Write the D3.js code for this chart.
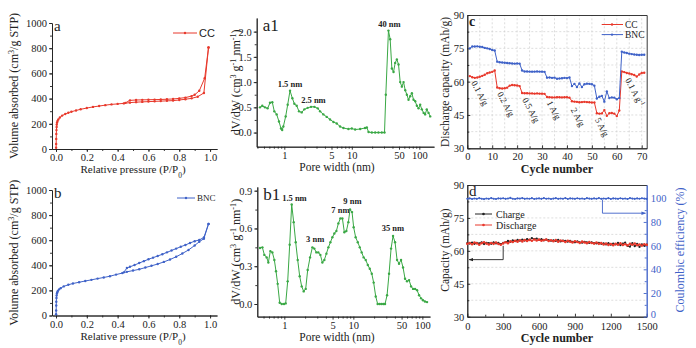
<!DOCTYPE html>
<html><head><meta charset="utf-8">
<script src="https://cdn.jsdelivr.net/npm/d3@7"></script>
<style>
body{margin:0;background:#fff}
svg{display:block}
text{font-family:"Liberation Serif","Times New Roman",serif;fill:#222}
</style>
</head><body>
<svg id="c" width="696" height="348"></svg>
<script>
// ---------------- DATA ----------------
// Panel a: CC N2 isotherm [P/P0, V]
const ccAds = [[0.0005,10],[0.001,40],[0.0015,80],[0.002,120],[0.003,150],[0.004,175],[0.005,195],[0.007,210],[0.01,222],[0.015,235],[0.025,250],[0.04,265],[0.06,278],[0.08,288],[0.1,296],[0.13,306],[0.16,315],[0.2,325],[0.24,334],[0.28,341],[0.32,348],[0.36,354],[0.4,358],[0.44,362],[0.48,368],[0.52,372],[0.56,374],[0.6,376],[0.64,378],[0.68,380],[0.72,382],[0.76,384],[0.8,389],[0.84,395],[0.88,402],[0.92,415],[0.96,445],[0.99,805]];
const ccDes = [[0.99,805],[0.965,562],[0.93,462],[0.9,430],[0.88,420],[0.84,408],[0.8,402],[0.76,397],[0.72,395],[0.68,393],[0.64,392],[0.6,391],[0.56,390],[0.52,389],[0.48,386],[0.45,366]];
// Panel b: BNC N2 isotherm
const bncAds = [[0.0005,10],[0.001,40],[0.0015,80],[0.002,110],[0.003,140],[0.004,160],[0.006,175],[0.008,185],[0.012,195],[0.02,208],[0.03,218],[0.05,232],[0.08,245],[0.11,255],[0.15,265],[0.19,275],[0.23,284],[0.27,294],[0.31,303],[0.35,313],[0.39,326],[0.43,338],[0.46,348],[0.5,358],[0.54,368],[0.58,382],[0.62,396],[0.66,410],[0.7,427],[0.74,446],[0.78,468],[0.82,494],[0.86,522],[0.9,558],[0.93,588],[0.96,612],[0.99,730]];
const bncDes = [[0.99,730],[0.96,622],[0.93,602],[0.9,592],[0.87,578],[0.84,562],[0.81,548],[0.78,533],[0.75,518],[0.72,503],[0.69,488],[0.66,474],[0.63,461],[0.6,448],[0.57,433],[0.54,418],[0.51,402],[0.48,388],[0.46,378],[0.44,344]];
// Panel a1: CC pore size distribution [width nm, dV/dW]
const ccPSD = [[0.436,0.5],[0.472,0.53],[0.517,0.5],[0.566,0.48],[0.614,0.59],[0.664,0.6],[0.711,0.42],[0.77,0.36],[0.834,0.22],[0.893,0.08],[0.93,0.05],[0.968,0.12],[1.048,0.32],[1.122,0.55],[1.215,0.83],[1.316,0.68],[1.409,0.57],[1.526,0.53],[1.652,0.42],[1.81,0.4],[1.98,0.46],[2.22,0.49],[2.49,0.51],[2.79,0.51],[3.13,0.48],[3.39,0.42],[3.79,0.36],[4.25,0.31],[4.76,0.26],[5.34,0.21],[5.98,0.18],[6.7,0.12],[7.51,0.09],[8.91,0.07],[10,0.08],[11.2,0.06],[13.3,0.07],[15.7,0.09],[16.7,0.1],[17.7,0.01],[19.8,0],[22.2,0],[24.8,0],[27.8,0],[30.5,0],[31.9,0.75],[34.9,2.02],[37,1.85],[39.2,1.27],[41.5,1.2],[43.9,1.38],[46.5,1.45],[49.2,1.35],[52.1,1.0],[55.1,0.91],[58.4,1.0],[61.8,0.84],[65.4,0.75],[69.2,0.65],[73.3,0.72],[77.6,0.78],[82.1,0.65],[86.9,0.62],[92,0.53],[97.4,0.48],[103,0.55],[109,0.46],[116,0.39],[122,0.36],[129,0.46],[137,0.39],[145,0.32]];
// Panel b1: BNC pore size distribution
const bncPSD = [[0.444,0.445],[0.481,0.45],[0.514,0.39],[0.555,0.37],[0.587,0.33],[0.627,0.42],[0.671,0.41],[0.717,0.35],[0.758,0.26],[0.801,0.16],[0.857,0.01],[0.916,0],[0.99,0],[1.047,0.005],[1.119,0.18],[1.196,0.47],[1.279,0.79],[1.367,0.65],[1.462,0.49],[1.562,0.35],[1.67,0.22],[1.785,0.14],[1.909,0.1],[2.04,0.12],[2.18,0.27],[2.36,0.37],[2.55,0.45],[2.72,0.44],[2.91,0.41],[3.11,0.41],[3.33,0.39],[3.56,0.33],[3.8,0.35],[4.07,0.4],[4.35,0.45],[4.65,0.49],[4.97,0.53],[5.31,0.56],[5.68,0.58],[6.07,0.64],[6.49,0.68],[6.94,0.68],[7.41,0.57],[7.93,0.58],[8.47,0.65],[8.96,0.75],[9.58,0.73],[10.1,0.61],[10.8,0.53],[11.6,0.49],[12.4,0.45],[13.2,0.41],[14.1,0.37],[15.1,0.35],[16.2,0.31],[17.3,0.28],[18.5,0.24],[19.7,0.17],[21.1,0.06],[22.5,0],[24.1,0],[25.8,0],[27.5,0],[28.8,0],[30.8,0.07],[32.9,0.24],[35.2,0.44],[37.6,0.54],[40.2,0.49],[43,0.35],[45.9,0.32],[49.1,0.35],[52.5,0.29],[56.1,0.2],[60,0.18],[64.2,0.19],[68.6,0.14],[73.3,0.12],[78.4,0.12],[83.8,0.11],[89.6,0.07],[95.8,0.045],[102,0.03],[109,0.02],[117,0.015]];
// Panel c: rate capability (cycle 1..71)
const rateCycles = d3.range(1, 72);
const rateCC = [62.5,62.0,61.7,61.9,62.2,62.6,63.1,63.8,64.1,64.4,65.0,
  57.4,57.0,56.9,57.0,57.3,58.2,58.5,58.4,58.3,58.0,
  54.9,54.8,54.8,54.7,54.7,54.6,54.7,54.6,54.6,54.5,
  53.1,53.0,52.9,52.9,53.0,53.0,52.9,53.0,53.0,52.8,
  51.2,51.0,50.9,50.7,50.8,50.9,50.8,50.7,50.6,50.6,
  45.8,45.6,45.7,47.2,44.6,45.8,45.9,45.6,44.5,47.0,
  64.6,64.3,63.9,63.7,63.3,63.0,62.3,63.2,63.9,64.0];
const rateBNC = [75.0,75.8,75.8,75.9,75.7,75.6,75.2,75.0,74.7,74.3,74.0,
  69.0,68.7,68.6,68.5,68.4,68.3,68.2,68.1,68.2,68.1,
  65.0,64.6,64.6,64.5,64.5,64.5,64.6,64.5,64.5,64.4,
  61.8,61.9,61.7,61.8,61.3,61.4,61.5,61.7,61.6,61.9,
  58.0,59.0,57.6,59.2,57.6,58.8,59.1,59.0,58.8,58.2,
  52.4,53.2,53.6,51.0,55.6,52.6,52.9,52.8,52.1,52.6,
  73.5,73.1,72.9,72.6,72.4,72.2,72.1,72.0,72.1,72.1];
const rateLabels = [["0.1 A/g",5.1,54.9],["0.2 A/g",15.5,49.9],["0.5 A/g",25.6,47.2],["1 A/g",34.8,47.2],["2 A/g",44.4,44.1],["5 A/g",54.1,39.6]];
// Panel d: long cycling (every 20 cycles)
const longCycles = d3.range(0, 1501, 20);
const longDischarge = [63.2,63.6,63.0,63.8,63.4,62.8,63.5,63.9,63.3,62.9,63.6,63.2,63.8,63.1,62.8,63.4,
  63.9,63.5,64.3,64.0,64.6,64.2,64.8,64.3,64.9,64.5,65.0,64.6,65.2,64.7,65.1,64.6,64.9,65.2,64.5,64.8,
  64.4,64.9,64.2,64.7,64.5,64.0,64.6,64.2,63.8,64.4,64.0,63.6,64.2,63.8,63.5,64.0,63.6,63.3,63.8,63.2,
  63.5,62.9,63.3,62.7,63.1,62.6,63.2,62.8,63.4,62.7,63.0,62.5,63.2,62.8,63.3,62.6,62.9,62.4,63.0,62.7];
const longCharge = [63.5,63.3,63.8,63.2,63.6,63.4,63.9,63.1,63.7,63.5,63.2,63.9,63.4,63.6,63.1,63.7,
  64.0,64.5,64.1,64.8,64.4,65.0,64.6,65.1,64.7,65.4,65.0,65.8,65.3,65.6,65.0,65.3,64.8,65.1,64.9,64.6,
  64.8,64.5,65.0,64.3,64.7,64.5,64.2,64.6,64.1,63.9,64.3,63.9,63.7,64.1,63.9,63.6,63.9,63.5,63.4,63.7,
  63.2,63.4,62.9,63.5,62.8,63.3,62.9,63.6,62.6,63.3,63.8,62.2,61.9,63.5,62.1,63.2,61.8,63.0,62.3,62.9];
const longCE = [99.6,99.9,99.4,99.8,99.5,100.1,99.6,99.3,99.8,99.5,100.2,99.6,99.4,99.9,99.7,100.0,
  99.5,99.8,100.3,99.6,99.4,99.9,99.7,100.2,99.5,99.8,99.6,100.1,99.4,99.7,99.9,99.5,100.2,99.6,99.8,99.4,
  99.7,100.1,99.5,99.8,99.6,100.2,99.4,99.9,99.7,99.5,100.0,99.6,99.8,99.4,100.1,99.7,99.5,99.9,99.6,100.2,
  99.5,99.8,99.6,100.1,99.4,99.9,99.7,99.5,100.0,99.6,99.8,99.4,100.2,99.7,99.5,99.9,99.6,100.0,99.7,99.5];

// ---------------- DRAW ----------------
const RED = "#e8392c", BLUE = "#3f62c8", GREEN = "#3aa845", INK = "#222";
const SERIF = "'Liberation Serif','Times New Roman',serif";
const TICK_FS = 10.5;
const svg = d3.select("#c");
svg.append("defs").html(`
 <marker id="ahK" viewBox="0 0 10 10" refX="9" refY="5" markerWidth="5" markerHeight="5" orient="auto"><path d="M0,1L10,5L0,9z" fill="${INK}"/></marker>
 <marker id="ahB" viewBox="0 0 10 10" refX="9" refY="5" markerWidth="5" markerHeight="5" orient="auto"><path d="M0,1L10,5L0,9z" fill="${BLUE}"/></marker>`);

function rich(parts, attrs, g) {
  const t = (g || svg).append("text");
  for (const k in attrs) t.attr(k, attrs[k]);
  parts.forEach(p => {
    if (typeof p === "string") t.append("tspan").text(p);
    else t.append("tspan").attr("baseline-shift", p.sup !== undefined ? "super" : "sub")
      .attr("font-size", "0.68em").text(p.sup !== undefined ? p.sup : p.sub);
  });
  return t;
}
function drawAxis(gen, tx, ty, color, fs) {
  const a = svg.append("g").attr("transform", `translate(${tx},${ty})`).call(gen);
  a.selectAll("text").attr("font-family", SERIF).attr("font-size", fs || TICK_FS).style("fill", color || INK);
  a.selectAll("line,path").attr("stroke", color || INK).attr("stroke-width", 0.9);
  return a;
}
function series(data, x, y, color, r) {
  const g = svg.append("g");
  g.append("path").datum(data).attr("fill", "none").attr("stroke", color).attr("stroke-width", 1)
    .attr("d", d3.line().x(d => x(d[0])).y(d => y(d[1])));
  g.selectAll("circle").data(data).join("circle")
    .attr("cx", d => x(d[0])).attr("cy", d => y(d[1])).attr("r", r || 1.2).attr("fill", color);
}
const fmtInt = d3.format("d");

// ----- Isotherm panels a, b -----
function isoPanel(top, bot, ads, des, color, letter, legName, legY, legSans) {
  const x = d3.scaleLinear().domain([-0.026, 1.045]).range([52, 217]);
  const y = d3.scaleLinear().domain([0, 1000]).range([bot, top]);
  drawAxis(d3.axisBottom(x).tickValues(d3.range(0, 1.01, 0.1)).tickSize(2).tickFormat("").tickSizeOuter(0), 0, bot);
  drawAxis(d3.axisBottom(x).tickValues([0, 0.2, 0.4, 0.6, 0.8, 1.0]).tickFormat(d3.format(".1f")).tickSize(3).tickPadding(2).tickSizeOuter(0), 0, bot);
  drawAxis(d3.axisLeft(y).tickValues(d3.range(0, 1001, 100)).tickSize(2).tickFormat("").tickSizeOuter(0), 52, 0);
  drawAxis(d3.axisLeft(y).tickValues(d3.range(0, 1001, 200)).tickFormat(fmtInt).tickSize(3).tickPadding(2).tickSizeOuter(0), 52, 0);
  series(ads, x, y, color, 1.2);
  series(des, x, y, color, 1.2);
  rich(["Relative pressure (P/P", {sub: "0"}, ")"], {x: 133, y: bot + 24, "text-anchor": "middle", "font-size": 11});
  rich(["Volume absorbed (cm", {sup: "3"}, "/g STP)"], {transform: `translate(18,${(top + bot) / 2}) rotate(-90)`, "text-anchor": "middle", "font-size": 12});
  svg.append("text").attr("x", 54).attr("y", top + 8).attr("font-size", 15).text(letter);
  // legend
  const lx0 = legName === "CC" ? 173 : 177, lx1 = legName === "CC" ? 197 : 195;
  svg.append("line").attr("x1", lx0).attr("x2", lx1).attr("y1", legY).attr("y2", legY).attr("stroke", color);
  svg.append("circle").attr("cx", (lx0 + lx1) / 2).attr("cy", legY).attr("r", 1.2).attr("fill", color);
  svg.append("text").attr("x", lx1 + 2).attr("y", legY + (legSans ? 4 : 3))
    .attr("font-size", legSans ? 11 : 9).style("font-family", legSans ? "'Liberation Sans',Arial,sans-serif" : SERIF).text(legName);
}
isoPanel(23, 149, ccAds, ccDes, RED, "a", "CC", 33, true);
isoPanel(190, 315.5, bncAds, bncDes, BLUE, "b", "BNC", 198, false);

// ----- PSD panels a1, b1 -----
function psdPanel(xd, xr, yd, yr, yTicks, yMinor, data, letter, notes, fmt) {
  const x = d3.scaleLog().domain(xd).range(xr);
  const y = d3.scaleLinear().domain(yd).range(yr);
  const minor = [0.4,0.5,0.6,0.7,0.8,0.9,2,3,4,6,7,8,9,20,30,40,60,70,80,90].filter(v => v >= xd[0] && v <= xd[1]);
  drawAxis(d3.axisBottom(x).tickValues(minor).tickSize(2).tickFormat("").tickSizeOuter(0), 0, yr[0]);
  drawAxis(d3.axisBottom(x).tickValues([1, 5, 10, 50, 100]).tickFormat(fmtInt).tickSize(3).tickPadding(2).tickSizeOuter(0), 0, yr[0]);
  drawAxis(d3.axisLeft(y).tickValues(yMinor).tickSize(2).tickFormat("").tickSizeOuter(0), xr[0], 0);
  drawAxis(d3.axisLeft(y).tickValues(yTicks).tickFormat(d3.format(fmt)).tickSize(3).tickPadding(2).tickSizeOuter(0), xr[0], 0);
  series(data, x, y, GREEN, 1.2);
  rich(["Pore width (nm)"], {x: 337, y: yr[0] + 24, "text-anchor": "middle", "font-size": 11.5});
  rich(["dV/dW (cm", {sup: "3"}, " g", {sup: "-1"}, " nm", {sup: "-1"}, ")"],
    {transform: `translate(240,${(yr[0] + yr[1]) / 2}) rotate(-90)`, "text-anchor": "middle", "font-size": 12});
  svg.append("text").attr("x", xr[0] + 6).attr("y", yr[1] + 13).attr("font-size", 17).text(letter);
  notes.forEach(n => svg.append("text").attr("x", x(n[1])).attr("y", y(n[2]) - 4).attr("text-anchor", "middle")
    .attr("font-size", 8.5).attr("font-weight", "bold").text(n[0]));
}
psdPanel([0.39, 165], [256.7, 434], [-0.28, 2.27], [146.7, 18], [0, 0.5, 1, 1.5, 2], d3.range(0, 2.01, 0.25), ccPSD, "a1",
  [["1.5 nm", 1.215, 0.83], ["2.5 nm", 2.7, 0.51], ["40 nm", 36, 2.02]], ".1f");
psdPanel([0.406, 129], [257.3, 430], [-0.1, 0.93], [316.6, 186.9], [0, 0.3, 0.6, 0.9], d3.range(0, 0.91, 0.15), bncPSD, "b1",
  [["1.5 nm", 1.4, 0.79], ["3 nm", 2.8, 0.46], ["7 nm", 6.5, 0.69], ["9 nm", 9.7, 0.76], ["35 nm", 37.5, 0.55]], ".1f");

// ----- Panel c -----
{
  const x = d3.scaleLinear().domain([0, 72]).range([467.3, 646.7]);
  const y = d3.scaleLinear().domain([30, 90]).range([148.3, 15]);
  const grid = svg.append("g").attr("stroke", "#cfcfcf").attr("stroke-width", 0.7).attr("stroke-dasharray", "2,2");
  d3.range(5, 71, 5).forEach(v => grid.append("line").attr("x1", x(v)).attr("x2", x(v)).attr("y1", y(30)).attr("y2", y(90)));
  d3.range(37.5, 89, 7.5).forEach(v => grid.append("line").attr("x1", x(0)).attr("x2", x(72)).attr("y1", y(v)).attr("y2", y(v)));
  drawAxis(d3.axisBottom(x).tickValues(d3.range(5, 71, 10)).tickSizeInner(-2).tickSizeOuter(0).tickFormat(""), 0, y(30));
  drawAxis(d3.axisBottom(x).tickValues(d3.range(0, 71, 10)).tickFormat(fmtInt).tickSizeInner(-3).tickPadding(4).tickSizeOuter(0), 0, y(30));
  drawAxis(d3.axisTop(x).tickValues([]).tickSizeOuter(0), 0, y(90));
  drawAxis(d3.axisRight(y).tickValues([]).tickSizeOuter(0), x(72), 0);
  drawAxis(d3.axisLeft(y).tickValues(d3.range(37.5, 89, 15)).tickSizeInner(-2).tickSizeOuter(0).tickFormat(""), x(0), 0);
  drawAxis(d3.axisLeft(y).tickValues([30, 45, 60, 75, 90]).tickFormat(fmtInt).tickSizeInner(-3).tickPadding(3).tickSizeOuter(0), x(0), 0);
  series(rateCycles.map((c, i) => [c, rateCC[i]]), x, y, RED, 1.2);
  series(rateCycles.map((c, i) => [c, rateBNC[i]]), x, y, BLUE, 1.2);
  rateLabels.forEach(l => svg.append("text").attr("transform", `translate(${x(l[1])},${y(l[2])}) rotate(62)`)
    .attr("text-anchor", "middle").attr("dy", "0.35em").attr("font-size", 9).text(l[0]));
  rich(["0.1 A g", {sup: "-1"}], {transform: `translate(${x(67.3)},${y(55.3)}) rotate(62)`, "text-anchor": "middle", dy: "0.35em", "font-size": 9});
  svg.append("text").attr("x", 469).attr("y", 26).attr("font-size", 14).attr("font-weight", "bold").text("c");
  [["CC", RED, 24.5, 27.8], ["BNC", BLUE, 34.6, 38]].forEach(l => {
    svg.append("line").attr("x1", 601.7).attr("x2", 623).attr("y1", l[2]).attr("y2", l[2]).attr("stroke", l[1]);
    svg.append("circle").attr("cx", 612).attr("cy", l[2]).attr("r", 1.2).attr("fill", l[1]);
    svg.append("text").attr("x", 625).attr("y", l[3]).attr("font-size", 9.5).text(l[0]);
  });
  svg.append("text").attr("x", 557).attr("y", 173).attr("text-anchor", "middle").attr("font-size", 12).attr("font-weight", "bold").text("Cycle number");
  svg.append("text").attr("transform", `translate(449,82) rotate(-90)`).attr("text-anchor", "middle").attr("font-size", 11.5).text("Discharge capacity (mAh/g)");
}

// ----- Panel d -----
{
  const x = d3.scaleLinear().domain([0, 1500]).range([467.3, 646.7]);
  const y = d3.scaleLinear().domain([30, 90]).range([316.7, 185]);
  const y2 = d3.scaleLinear().domain([0, 111.2]).range([316.7, 185]);
  const grid = svg.append("g").attr("stroke", "#cfcfcf").attr("stroke-width", 0.7).attr("stroke-dasharray", "2,2");
  d3.range(37.5, 89, 7.5).forEach(v => grid.append("line").attr("x1", x(0)).attr("x2", x(1500)).attr("y1", y(v)).attr("y2", y(v)));
  drawAxis(d3.axisBottom(x).tickValues(d3.range(150, 1500, 300)).tickSizeInner(-2).tickSizeOuter(0).tickFormat(""), 0, y(30));
  drawAxis(d3.axisBottom(x).tickValues(d3.range(0, 1501, 300)).tickFormat(fmtInt).tickSizeInner(-3).tickPadding(5.5).tickSizeOuter(0), 0, y(30));
  drawAxis(d3.axisTop(x).tickValues([]).tickSizeOuter(0), 0, y(90));
  drawAxis(d3.axisLeft(y).tickValues(d3.range(37.5, 89, 15)).tickSizeInner(-2).tickSizeOuter(0).tickFormat(""), x(0), 0);
  drawAxis(d3.axisLeft(y).tickValues([30, 45, 60, 75, 90]).tickFormat(fmtInt).tickSizeInner(-3).tickPadding(3).tickSizeOuter(0), x(0), 0);
  drawAxis(d3.axisRight(y2).tickValues(d3.range(10, 101, 20)).tickSizeInner(-2).tickSizeOuter(0).tickFormat(""), x(1500), 0, BLUE);
  const ra = drawAxis(d3.axisRight(y2).tickValues(d3.range(0, 101, 20)).tickFormat(fmtInt).tickSizeInner(-3).tickPadding(4).tickSizeOuter(0), x(1500), 0, BLUE);
  ra.selectAll(".tick text").filter(d => d === 0).attr("dy", "0.1em");
  series(longCycles.map((c, i) => [c, longCharge[i]]), x, y, INK, 1.1);
  series(longCycles.map((c, i) => [c, longDischarge[i]]), x, y, RED, 1.3);
  series(longCycles.map((c, i) => [c, longCE[i]]), x, y2, BLUE, 1.1);
  // arrows
  svg.append("path").attr("fill", "none").attr("stroke", INK).attr("stroke-width", 0.9).attr("marker-end", "url(#ahK)")
    .attr("d", d3.line()([[x(300), y(62.3)], [x(300), y(56)], [x(15), y(56)]]));
  svg.append("path").attr("fill", "none").attr("stroke", BLUE).attr("stroke-width", 0.9).attr("marker-end", "url(#ahB)")
    .attr("d", d3.line()([[x(1130), y2(98.8)], [x(1130), y2(87.4)], [x(1490), y2(87.4)]]));
  svg.append("text").attr("x", 469).attr("y", 196).attr("font-size", 15).text("d");
  [["Charge", INK, 214], ["Discharge", RED, 225]].forEach(l => {
    svg.append("line").attr("x1", 475).attr("x2", 492).attr("y1", l[2]).attr("y2", l[2]).attr("stroke", l[1]);
    svg.append("circle").attr("cx", 483.5).attr("cy", l[2]).attr("r", 1.3).attr("fill", l[1]);
    svg.append("text").attr("x", 496).attr("y", l[2] + 3.5).attr("font-size", 10).text(l[0]);
  });
  svg.append("text").attr("x", 557).attr("y", 342).attr("text-anchor", "middle").attr("font-size", 12).attr("font-weight", "bold").text("Cycle number");
  svg.append("text").attr("transform", `translate(449,250) rotate(-90)`).attr("text-anchor", "middle").attr("font-size", 11.5).text("Capacity (mAh/g)");
  svg.append("text").attr("transform", `translate(684,250) rotate(-90)`).attr("text-anchor", "middle").attr("font-size", 12).style("fill", BLUE).text("Coulombic efficiency (%)");
}
</script>
</body></html>
